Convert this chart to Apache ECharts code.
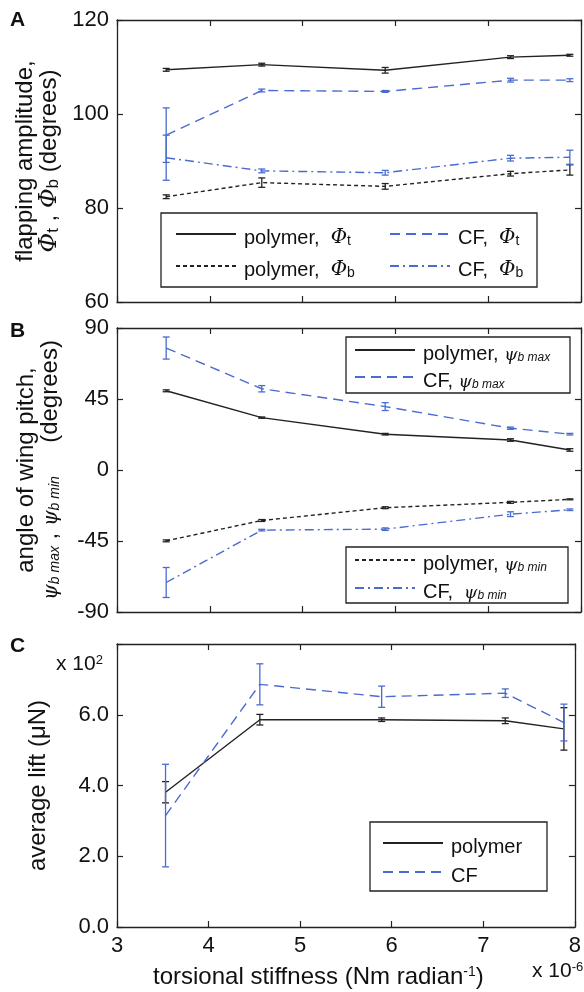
<!DOCTYPE html>
<html>
<head>
<meta charset="utf-8">
<script src="https://cdn.jsdelivr.net/npm/echarts@6/dist/echarts.min.js"></script>
<style>
html, body { margin: 0; background: #fff; }
#chart { width: 584px; height: 992px; }
</style>
</head>
<body>
<div id="chart"></div>
<script>
// torsional stiffness (x 10^-6 Nm/rad)
var stiffness = [3.53, 4.56, 5.89, 7.24, 7.88];
var xTicks = [3, 4, 5, 6, 7, 8];

// A: flapping amplitude (degrees)
var ampTicks = [60, 80, 100, 120];
var polyPhiT = [109.4, 110.5, 109.3, 112.1, 112.5];
var polyPhiTErr = [0.3, 0.3, 0.6, 0.3, 0.2];
var cfPhiT = [95.5, 105.0, 104.8, 107.2, 107.2];
var cfPhiTErr = [5.8, 0.3, 0.2, 0.4, 0.3];
var polyPhiB = [82.4, 85.4, 84.6, 87.3, 88.1];
var polyPhiBErr = [0.4, 1.0, 0.6, 0.5, 1.1];
var cfPhiB = [90.7, 87.9, 87.5, 90.6, 90.8];
var cfPhiBErr = [4.8, 0.4, 0.5, 0.6, 1.5];

// B: angle of wing pitch (degrees)
var pitchTicks = [-90, -45, 0, 45, 90];
var polyPsiMax = [50.2, 33.2, 22.7, 19.0, 12.7];
var polyPsiMaxErr = [0.6, 0.4, 0.5, 0.8, 0.8];
var cfPsiMax = [77.3, 51.5, 40.2, 26.5, 22.7];
var cfPsiMaxErr = [7.0, 2.0, 2.5, 0.7, 0.5];
var polyPsiMin = [-44.9, -32.0, -23.9, -20.5, -18.6];
var polyPsiMinErr = [0.6, 0.6, 0.6, 0.6, 0.3];
var cfPsiMin = [-71.3, -38.1, -37.5, -28.0, -25.2];
var cfPsiMinErr = [9.5, 0.5, 0.8, 1.5, 0.5];

// C: average lift (x 10^2 uN)
var liftTicks = [0, 2, 4, 6, 8];
var polyLift = [3.81, 5.86, 5.86, 5.83, 5.60];
var polyLiftErr = [0.30, 0.15, 0.05, 0.08, 0.60];
var cfLift = [3.15, 6.86, 6.51, 6.61, 5.78];
var cfLiftErr = [1.45, 0.58, 0.30, 0.12, 0.52];

var BLACK = '#222';
var BLUE = '#4a6bd0';
var FONT = '"Liberation Sans", Arial, sans-serif';
var SERIF = '"DejaVu Serif", "Liberation Serif", serif';

function richSet(fs, lh) {
  return {
    t: { fontSize: fs, fontFamily: FONT, color: '#111', lineHeight: lh, verticalAlign: 'bottom' },
    phi: { fontSize: fs, fontFamily: SERIF, fontStyle: 'italic', color: '#111', lineHeight: lh, verticalAlign: 'bottom' },
    sub: { fontSize: Math.round(fs * 0.7), fontFamily: FONT, color: '#111', lineHeight: 12, verticalAlign: 'bottom' },
    psi: { fontSize: Math.round(fs * 0.85), fontFamily: SERIF, fontStyle: 'italic', color: '#111', lineHeight: lh, verticalAlign: 'bottom' },
    subi: { fontSize: Math.round(fs * 0.6), fontFamily: FONT, fontStyle: 'italic', color: '#111', lineHeight: 12, verticalAlign: 'bottom' }
  };
}
var rich = richSet(20, 28);
var nameRich = richSet(24, 24);

var legendText = {
  'polymer, Φt': '{t|polymer,  }{phi|Φ}{sub|t}',
  'CF, Φt': '{t|CF,  }{phi|Φ}{sub|t}',
  'polymer, Φb': '{t|polymer,  }{phi|Φ}{sub|b}',
  'CF, Φb': '{t|CF,  }{phi|Φ}{sub|b}',
  'polymer, ψb max': '{t|polymer, }{psi|ψ}{subi|b max}',
  'CF, ψb max': '{t|CF, }{psi|ψ}{subi|b max}',
  'polymer, ψb min': '{t|polymer, }{psi|ψ}{subi|b min}',
  'CF, ψb min': '{t|CF,  }{psi|ψ}{subi|b min}',
  'polymer': '{t|polymer}',
  'CF': '{t|CF}'
};

function pairs(vals) {
  return stiffness.map(function (x, i) { return [x, vals[i]]; });
}

function ranges(vals, errs) {
  return stiffness.map(function (x, i) { return [x, vals[i] - errs[i], vals[i] + errs[i]]; });
}

function errorBars(color) {
  return function (params, api) {
    var x = api.value(0);
    var lo = api.coord([x, api.value(1)]);
    var hi = api.coord([x, api.value(2)]);
    var w = 3.5;
    var st = { stroke: color, lineWidth: 1.3 };
    return {
      type: 'group',
      children: [
        { type: 'line', shape: { x1: lo[0], y1: lo[1], x2: hi[0], y2: hi[1] }, style: st },
        { type: 'line', shape: { x1: lo[0] - w, y1: lo[1], x2: lo[0] + w, y2: lo[1] }, style: st },
        { type: 'line', shape: { x1: hi[0] - w, y1: hi[1], x2: hi[0] + w, y2: hi[1] }, style: st }
      ]
    };
  };
}

function line(name, vals, color, dash, ax) {
  return {
    name: name, type: 'line', xAxisIndex: ax * 2, yAxisIndex: ax * 2,
    data: pairs(vals), symbol: 'none', z: 3,
    lineStyle: { color: color, width: 1.4, type: dash },
    itemStyle: { color: color }
  };
}

function bars(vals, errs, color, ax) {
  return {
    type: 'custom', xAxisIndex: ax * 2, yAxisIndex: ax * 2,
    renderItem: errorBars(color), data: ranges(vals, errs),
    encode: { x: 0, y: [1, 2] }, z: 4, silent: true
  };
}

var axisLine = { show: true, onZero: false, lineStyle: { color: BLACK, width: 1.3 } };
var axisTick = { show: true, inside: true, length: 6, lineStyle: { color: BLACK, width: 1.2 } };

var grids = [
  { left: 117, right: 3, top: 20, height: 282 },
  { left: 117, right: 3, top: 328, height: 284 },
  { left: 117, right: 3, top: 644, height: 283 }
];

var xAxes = [];
var yAxes = [];
var yTicks = [ampTicks, pitchTicks, liftTicks];
for (var g = 0; g < 3; g++) {
  var xa = {
    gridIndex: g, type: 'value', min: xTicks[0], max: xTicks[xTicks.length - 1], interval: 1,
    axisLine: axisLine, axisTick: axisTick, splitLine: { show: false },
    axisLabel: { show: g === 2, fontSize: 22, fontFamily: FONT, color: '#111', margin: 8 }
  };
  xAxes.push(xa);
  xAxes.push(Object.assign({}, xa, { position: 'top', axisLabel: { show: false } }));
  var tk = yTicks[g];
  var ya = {
    gridIndex: g, type: 'value', min: tk[0], max: tk[tk.length - 1], interval: tk[1] - tk[0],
    axisLine: axisLine, axisTick: axisTick, splitLine: { show: false },
    axisLabel: { fontSize: 22, fontFamily: FONT, color: '#111', margin: 8 },
    nameLocation: 'middle', nameRotate: 90,
    nameTextStyle: { fontSize: 24, fontFamily: FONT, color: '#111', rich: nameRich }
  };
  yAxes.push(ya);
  yAxes.push(Object.assign({}, ya, { position: 'right', axisLabel: { show: false }, name: '' }));
}
yAxes[0].name = '{t|flapping amplitude,}\n{phi|Φ}{sub|t}{t| , }{phi|Φ}{sub|b}{t| (degrees)}';
yAxes[0].nameGap = 55;
yAxes[2].name = '{t|angle of wing pitch,}\n{psi|ψ}{subi|b max}{t| , }{psi|ψ}{subi|b min}{t|     (degrees)}';
yAxes[2].nameGap = 55;
yAxes[4].name = '{t|average lift (μN)}';
yAxes[4].nameGap = 67;
yAxes[4].axisLabel = Object.assign({}, yAxes[4].axisLabel, {
  formatter: function (v) { return v === 8 ? '' : v.toFixed(1); }
});

function legend(names, left, top, gap) {
  return {
    data: names, orient: 'vertical', left: left, top: top, itemGap: gap, z: 8,
    itemWidth: 60, itemHeight: 14, padding: 0, selectedMode: false,
    itemStyle: { opacity: 0, color: 'rgba(0,0,0,0)', borderWidth: 0 },
    textStyle: { fontSize: 20, fontFamily: FONT, color: '#111', rich: rich, padding: [0, 0, 0, 3] },
    formatter: function (n) { return legendText[n]; }
  };
}

function box(x, y, w, h) {
  return { type: 'rect', shape: { x: x, y: y, width: w, height: h }, style: { fill: 'none', stroke: BLACK, lineWidth: 1.3 }, z: 1 };
}

function label(text, x, y, font, extra) {
  return {
    type: 'text', x: x, y: y, z: 10,
    style: { text: text, font: font, fill: '#111', rich: extra || {} }
  };
}

function supRich(fs) {
  return {
    sup: { fontSize: Math.round(fs * 0.6), fontFamily: FONT, color: '#111', verticalAlign: 'top', lineHeight: 12 },
    b: { fontSize: fs, fontFamily: FONT, color: '#111', lineHeight: fs + 4, verticalAlign: 'top' }
  };
}

var option = {
  animation: false,
  backgroundColor: '#fff',
  grid: grids,
  xAxis: xAxes,
  yAxis: yAxes,
  legend: [
    legend(['polymer, Φt', 'polymer, Φb'], 175, 228, 12),
    legend(['CF, Φt', 'CF, Φb'], 389, 228, 12),
    legend(['polymer, ψb max', 'CF, ψb max'], 354, 344, 7),
    legend(['polymer, ψb min', 'CF, ψb min'], 354, 554, 8),
    legend(['polymer', 'CF'], 382, 837, 9)
  ],
  graphic: [
    box(161, 213, 376, 74),
    box(346, 337, 224, 56),
    box(346, 547, 222, 56),
    box(370, 822, 177, 69),
    label('A', 10, 10, 'bold 21px ' + FONT),
    label('B', 10, 321, 'bold 21px ' + FONT),
    label('C', 10, 636, 'bold 21px ' + FONT),
    label('{b|x 10}{sup|2}', 56, 654, '21px ' + FONT, supRich(21)),
    label('{b|x 10}{sup|-6}', 532, 961, '21px ' + FONT, supRich(21)),
    label('{b|torsional stiffness (Nm radian}{sup|-1}{b|)}', 153, 965, '24px ' + FONT, supRich(24))
  ],
  series: [
    line('polymer, Φt', polyPhiT, BLACK, 'solid', 0),
    line('CF, Φt', cfPhiT, BLUE, [10, 6], 0),
    line('polymer, Φb', polyPhiB, BLACK, [4, 3], 0),
    line('CF, Φb', cfPhiB, BLUE, [9, 4, 2, 4], 0),
    bars(polyPhiT, polyPhiTErr, BLACK, 0),
    bars(cfPhiT, cfPhiTErr, BLUE, 0),
    bars(polyPhiB, polyPhiBErr, BLACK, 0),
    bars(cfPhiB, cfPhiBErr, BLUE, 0),

    line('polymer, ψb max', polyPsiMax, BLACK, 'solid', 1),
    line('CF, ψb max', cfPsiMax, BLUE, [10, 6], 1),
    line('polymer, ψb min', polyPsiMin, BLACK, [4, 3], 1),
    line('CF, ψb min', cfPsiMin, BLUE, [9, 4, 2, 4], 1),
    bars(polyPsiMax, polyPsiMaxErr, BLACK, 1),
    bars(cfPsiMax, cfPsiMaxErr, BLUE, 1),
    bars(polyPsiMin, polyPsiMinErr, BLACK, 1),
    bars(cfPsiMin, cfPsiMinErr, BLUE, 1),

    line('polymer', polyLift, BLACK, 'solid', 2),
    line('CF', cfLift, BLUE, [10, 6], 2),
    bars(polyLift, polyLiftErr, BLACK, 2),
    bars(cfLift, cfLiftErr, BLUE, 2)
  ]
};

var chart = echarts.init(document.getElementById('chart'));
chart.setOption(option);
</script>
</body>
</html>
